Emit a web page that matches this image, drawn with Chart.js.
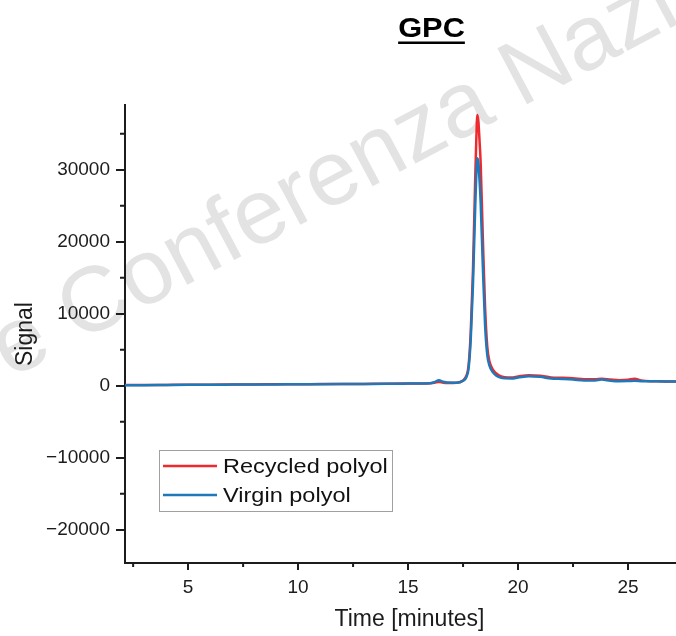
<!DOCTYPE html>
<html>
<head>
<meta charset="utf-8">
<title>GPC</title>
<script src="https://cdn.jsdelivr.net/npm/chart.js@4.4.1/dist/chart.umd.min.js"></script>
<style>
  html, body { margin: 0; padding: 0; background: #fff; overflow: hidden; }
  #wrap { width: 694px; height: 636px; }
</style>
</head>
<body>
<div id="wrap"><canvas id="chart" width="694" height="636"></canvas></div>
<script>
// === DATA ===
const timeMin = [2.0, 3, 4, 5, 6, 7, 8, 9, 10, 11, 12, 13, 14, 15,
  15.6, 16.0, 16.2, 16.4, 16.6, 16.8, 17.2, 17.5, 17.65, 17.75, 17.85, 17.95,
  18.05, 18.1, 18.15, 18.2, 18.25, 18.3, 18.4, 18.5, 18.6, 18.7, 18.85, 19.0,
  19.2, 19.4, 19.7, 20.0, 20.5, 21.0, 21.5, 22.0, 22.5, 23.0, 23.5, 23.8,
  24.2, 24.6, 25.0, 25.3, 25.6, 26.0, 26.5, 27.0, 27.5, 28.0];

const recycledPolyol = [100, 110, 130, 150, 160, 180, 200, 210, 230, 240, 250, 270, 290, 320,
  340, 360, 420, 550, 430, 380, 420, 750, 1400, 2800, 7500, 16000,
  28500, 34000, 37600, 36600, 34000, 31000, 20500, 11000, 5500, 3400, 2300, 1750,
  1350, 1200, 1150, 1300, 1480, 1400, 1170, 1120, 1050, 930, 900, 980,
  880, 790, 850, 970, 760, 650, 630, 610, 600, 600];

const virginPolyol = [90, 100, 120, 140, 150, 170, 190, 200, 220, 230, 240, 260, 280, 310,
  330, 360, 520, 780, 560, 450, 430, 700, 1200, 2400, 6500, 14000,
  24500, 29000, 31600, 30900, 28500, 25500, 16500, 8500, 4300, 2800, 1900, 1450,
  1150, 1050, 1030, 1150, 1350, 1250, 1020, 950, 870, 760, 760, 870,
  720, 650, 660, 700, 650, 630, 620, 610, 600, 600];

const xMajorStep = 5;
const xMinorTicks = [2.5, 7.5, 12.5, 17.5, 22.5, 27.5];
const yMajorTicks = [-20000, -10000, 0, 10000, 20000, 30000];
const yMinorTicks = [-15000, -5000, 5000, 15000, 25000, 35000];

const FONT = "'Liberation Sans', Arial, sans-serif";
const INK = '#1c1c1c';

const toPoints = ys => ys.map((y, i) => ({ x: timeMin[i], y: y }));

// === PLUGINS ===
const watermark = {
  id: 'watermark',
  beforeDraw(chart) {
    const c = chart.ctx;
    c.save();
    c.font = `92px ${FONT}`;
    c.fillStyle = '#e3e3e3';
    c.textBaseline = 'alphabetic';
    c.translate(78, 343);
    c.rotate(-28 * Math.PI / 180);
    const pre = c.measureText('e ').width;
    c.fillText('e Conferenza Nazionale', -pre, 0);
    c.restore();
  }
};

const gpcTitle = {
  id: 'gpcTitle',
  afterDraw(chart) {
    const c = chart.ctx;
    c.save();
    c.font = `bold 28px ${FONT}`;
    c.fillStyle = '#000';
    c.textAlign = 'center';
    c.textBaseline = 'alphabetic';
    c.translate(431.5, 37);
    c.scale(1.1, 1);
    c.fillText('GPC', 0, 0);
    const w = c.measureText('GPC').width;
    c.fillRect(-w / 2, 4.5, w, 2.5);
    c.restore();
  }
};

const minorTicks = {
  id: 'minorTicks',
  afterDraw(chart) {
    const c = chart.ctx;
    const { x, y } = chart.scales;
    const area = chart.chartArea;
    c.save();
    c.strokeStyle = INK;
    c.lineWidth = 2;
    c.beginPath();
    xMinorTicks.forEach(v => {
      if (v < x.min || v > x.max) return;
      const px = x.getPixelForValue(v);
      c.moveTo(px, area.bottom);
      c.lineTo(px, area.bottom + 4);
    });
    yMinorTicks.forEach(v => {
      if (v < y.min || v > y.max) return;
      const py = y.getPixelForValue(v);
      c.moveTo(area.left - 5, py);
      c.lineTo(area.left, py);
    });
    c.stroke();
    c.restore();
  }
};

const boxLegend = {
  id: 'boxLegend',
  afterDatasetsDraw(chart) {
    const c = chart.ctx;
    const rows = [chart.data.datasets[0], chart.data.datasets[1]];
    c.save();
    c.strokeStyle = '#a0a0a0';
    c.lineWidth = 1;
    c.strokeRect(159.5, 450.5, 233, 61);
    c.font = `21px ${FONT}`;
    c.textBaseline = 'middle';
    rows.forEach((ds, i) => {
      const ly = 466 + i * 29;
      c.strokeStyle = ds.borderColor;
      c.lineWidth = 2.5;
      c.beginPath();
      c.moveTo(163, ly);
      c.lineTo(217, ly);
      c.stroke();
      c.save();
      c.fillStyle = '#111';
      c.translate(223, ly + 1);
      c.scale(1.12, 1);
      c.fillText(ds.label, 0, 0);
      c.restore();
    });
    c.restore();
  }
};

// === CHART ===
const ctx = document.getElementById('chart').getContext('2d');

const chart = new Chart(ctx, {
  type: 'line',
  data: {
    datasets: [
      {
        label: 'Recycled polyol',
        data: toPoints(recycledPolyol),
        borderColor: '#ee2a2e',
        borderWidth: 2.5,
        pointRadius: 0,
        fill: false,
        cubicInterpolationMode: 'monotone',
        order: 2
      },
      {
        label: 'Virgin polyol',
        data: toPoints(virginPolyol),
        borderColor: '#1f78b8',
        borderWidth: 2.5,
        pointRadius: 0,
        fill: false,
        cubicInterpolationMode: 'monotone',
        order: 1
      }
    ]
  },
  options: {
    responsive: false,
    animation: false,
    layout: { padding: { top: 105, left: 0, right: 0, bottom: 0 } },
    plugins: {
      legend: { display: false },
      title: { display: false },
      tooltip: { enabled: false }
    },
    scales: {
      x: {
        type: 'linear',
        min: 2.13,
        max: 28,
        afterFit: s => { s.height = 73; },
        ticks: {
          stepSize: xMajorStep,
          includeBounds: false,
          maxRotation: 0,
          padding: 6,
          color: INK,
          font: { family: FONT, size: 19 }
        },
        grid: { drawOnChartArea: false, tickLength: 7, color: INK, lineWidth: 2 },
        border: { color: INK, width: 2 },
        title: {
          display: true,
          text: 'Time [minutes]',
          color: INK,
          font: { family: FONT, size: 23 },
          padding: { top: 0, bottom: 3 }
        }
      },
      y: {
        type: 'linear',
        min: -24600,
        max: 39000,
        afterFit: s => { s.width = 125; },
        afterBuildTicks: s => { s.ticks = yMajorTicks.map(v => ({ value: v })); },
        ticks: {
          padding: 6,
          color: INK,
          font: { family: FONT, size: 19 },
          callback: v => v < 0 ? '\u2212' + Math.abs(v) : String(v)
        },
        grid: { drawOnChartArea: false, tickLength: 9, color: INK, lineWidth: 2 },
        border: { color: INK, width: 2 },
        title: {
          display: true,
          text: 'Signal',
          color: INK,
          font: { family: FONT, size: 23 },
          padding: { top: 12, bottom: 0 }
        }
      }
    }
  },
  plugins: [watermark, gpcTitle, minorTicks, boxLegend]
});
</script>
</body>
</html>
